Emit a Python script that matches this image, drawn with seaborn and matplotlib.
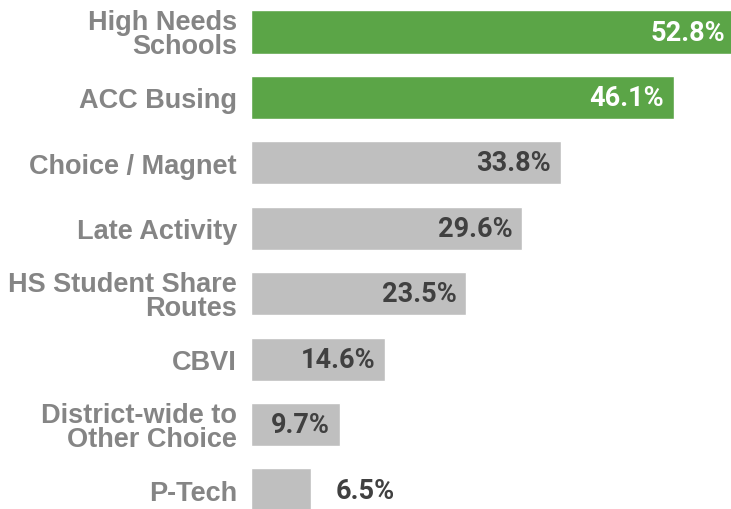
import matplotlib
matplotlib.use("Agg")
import matplotlib.pyplot as plt
import seaborn as sns
import pandas as pd

categories = ["High Needs\nSchools", "ACC Busing", "Choice / Magnet", "Late Activity",
              "HS Student Share\nRoutes", "CBVI", "District-wide to\nOther Choice", "P-Tech"]
values = [52.8, 46.1, 33.8, 29.6, 23.5, 14.6, 9.7, 6.5]
highlight = [True, True, False, False, False, False, False, False]

GREEN = "#5BA547"
GRAY = "#BFBFBF"
colors = [GREEN if h else GRAY for h in highlight]

df = pd.DataFrame({"category": categories, "value": values})

sns.set_theme(style="white")
fig = plt.figure(figsize=(7.31, 5.10), dpi=100)
ax = fig.add_axes([251 / 731, 0.0, 1 - 251 / 731, 1.0])

sns.barplot(data=df, x="value", y="category", hue="category", palette=colors,
            legend=False, width=0.66, orient="h", ax=ax, saturation=1)

ax.set_xlim(0, 52.35)
ax.set_ylim(7.29, -0.505)
ax.set_xlabel("")
ax.set_ylabel("")
ax.set_xticks([])
for s in ax.spines.values():
    s.set_visible(False)
ax.tick_params(axis="y", length=0, pad=10)
for lab in ax.get_yticklabels():
    lab.set_fontfamily("Liberation Sans")
    lab.set_fontweight("bold")
    lab.set_fontsize(19.5)
    lab.set_color("#858585")
    lab.set_linespacing(0.9)
    lab.set_horizontalalignment("right")

for i, (v, h) in enumerate(zip(values, highlight)):
    if v < 8:
        ax.annotate(f"{v}%", xy=(v, i), xytext=(18, 0), textcoords="offset points",
                    ha="left", va="center", fontsize=19.5, fontweight="bold",
                    family="Roboto", color="#404040")
    else:
        ax.annotate(f"{v}%", xy=(v, i),
                    xytext=(-7, 0), textcoords="offset points",
                    ha="right", va="center", fontsize=19.5, fontweight="bold",
                    family="Roboto", color="white" if h else "#404040",
                    annotation_clip=False)

fig.savefig("out.png", dpi=100)
